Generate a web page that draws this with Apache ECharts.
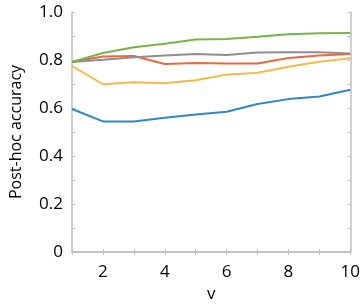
<!DOCTYPE html>
<html><head><meta charset="utf-8">
<script src="https://cdn.jsdelivr.net/npm/echarts@6/dist/echarts.min.js"></script>
<style>html,body{margin:0;padding:0;background:#fff}#c{width:363px;height:308px}</style>
</head><body><div id="c"></div>
<script>
const vValues = [1,2,3,4,5,6,7,8,9,10];
const blue   = [0.596,0.544,0.544,0.559,0.573,0.584,0.617,0.637,0.648,0.676];
const orange = [0.775,0.699,0.707,0.703,0.716,0.739,0.747,0.772,0.793,0.807];
const red    = [0.792,0.815,0.817,0.783,0.787,0.785,0.785,0.808,0.819,0.825];
const gray   = [0.792,0.801,0.811,0.819,0.825,0.821,0.831,0.832,0.832,0.827];
const green  = [0.792,0.829,0.853,0.868,0.885,0.887,0.897,0.907,0.911,0.913];
const yTickLabels = ['0','0.2','0.4','0.6','0.8','1.0'];

const font = 'Open Sans';
const axisColor = '#bfbfbf';
function pair(arr){ return vValues.map((v,i)=>[v,arr[i]]); }
function mk(name, data, color){
  return {name, type:'line', data:pair(data), symbol:'none', lineStyle:{color, width:2}, itemStyle:{color}, xAxisIndex:0, yAxisIndex:0};
}
const chart = echarts.init(document.getElementById('c'), null, {renderer:'canvas'});
const tickCommon = {show:true, inside:true, length:3, lineStyle:{color:axisColor, width:1}};
chart.setOption({
  animation:false,
  grid:{left:64, right:11, top:12, bottom:46},
  xAxis:[{
    type:'value', min:1, max:10, interval:1, name:'v', nameLocation:'middle', nameGap:34,
    nameTextStyle:{fontFamily:font, fontSize:17, color:'#000'},
    axisLine:{show:true, lineStyle:{color:axisColor, width:1.5}},
    axisTick:tickCommon, splitLine:{show:false},
    axisLabel:{fontFamily:font, fontSize:17, color:'#000', margin:12,
      formatter:v=> (v%2===0 ? String(v) : '')}
  },{
    type:'value', min:1, max:10, interval:1, position:'top',
    axisLine:{show:true, lineStyle:{color:axisColor, width:1.5}},
    axisTick:tickCommon, axisLabel:{show:false}, splitLine:{show:false}
  }],
  yAxis:[{
    type:'value', min:0, max:1, interval:0.1, name:'Post-hoc accuracy', nameLocation:'middle', nameGap:48,
    nameTextStyle:{fontFamily:font, fontSize:16, color:'#000'},
    axisLine:{show:true, lineStyle:{color:axisColor, width:1.5}},
    axisTick:tickCommon, splitLine:{show:false},
    axisLabel:{fontFamily:font, fontSize:17, color:'#000', margin:9,
      formatter:v=>{ const k=Math.round(v*10); return k%2===0 ? yTickLabels[k/2] : ''; }}
  },{
    type:'value', min:0, max:1, interval:0.1, position:'right',
    axisLine:{show:true, lineStyle:{color:axisColor, width:1.5}},
    axisTick:tickCommon, axisLabel:{show:false}, splitLine:{show:false}
  }],
  series:[
    mk('blue', blue, '#2e86cc'),
    mk('orange', orange, '#f5b945'),
    mk('red', red, '#e8683f'),
    mk('gray', gray, '#8f8f8f'),
    mk('green', green, '#78b445')
  ]
});
</script></body></html>
